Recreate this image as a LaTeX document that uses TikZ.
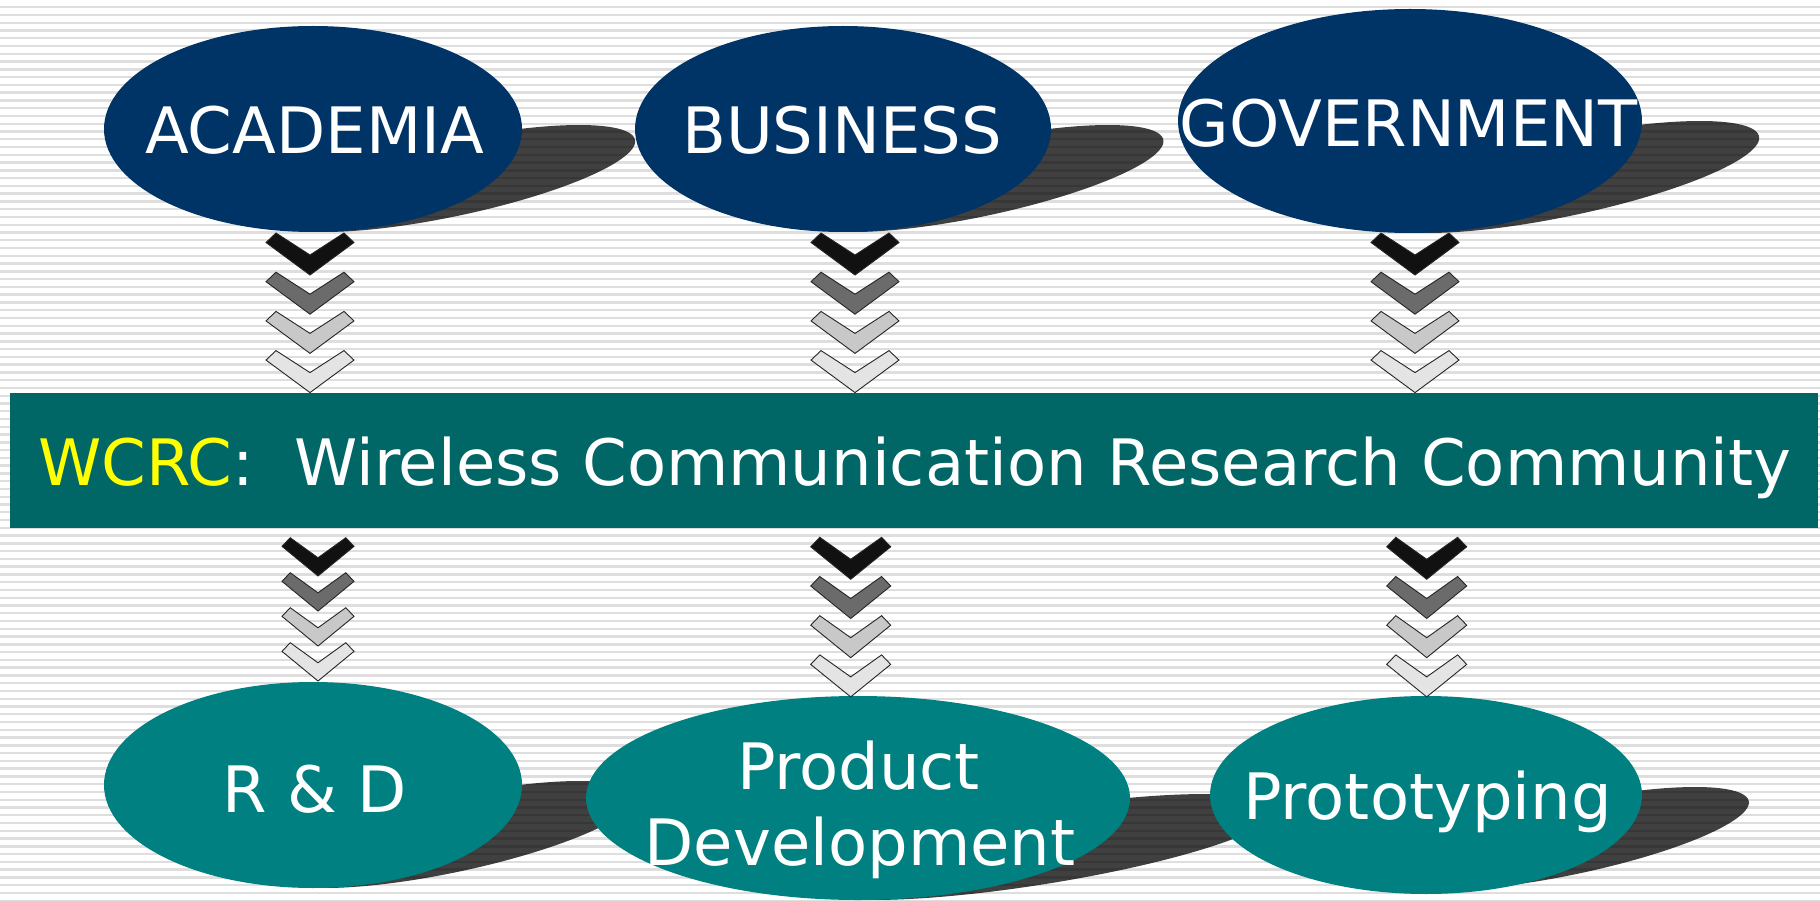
\documentclass[tikz,border=0pt]{standalone}
\usepackage{fontspec}
\setmainfont{DejaVu Sans}
\usetikzlibrary{shapes.geometric}
\definecolor{navy}{HTML}{003366}
\definecolor{tealB}{HTML}{008080}
\definecolor{barteal}{HTML}{006666}
\definecolor{stripec}{HTML}{DEDEDE}
\definecolor{chevA}{HTML}{111111}
\definecolor{chevB}{HTML}{6B6B6B}
\definecolor{chevC}{HTML}{C8C8C8}
\definecolor{chevD}{HTML}{E4E4E4}
\definecolor{wcrcyellow}{HTML}{FFFF00}
\tikzset{
  topell/.style={ellipse, fill=navy, inner sep=0pt},
  botell/.style={ellipse, fill=tealB, inner sep=0pt},
  lbl/.style={text=white, inner sep=0pt, anchor=base, font=\fontsize{64}{64}\selectfont},
  shadowfill/.style={fill=black, fill opacity=0.75},
  chevline/.style={draw=black!85, line width=0.9pt, line join=miter},
}
\newcommand\shadowshape[5]{%
  \fill[shadowfill] plot[domain=0:360, samples=120] ({#1+#3*cos(\x)+#5*sin(\x)},{#2-#4*sin(\x)}) -- cycle;}
\newcommand\chev[5]{%
  \begin{scope}[shift={(#1,#2)}, xscale=#3, yscale=#4]
    \filldraw[chevline, fill=#5] (-44,9.5) -- (-34,0) -- (0,22) -- (34,0) -- (44,9.5) -- (0,42) -- cycle;
  \end{scope}}
\newcommand\chevcol[5]{% x, top, spacing, xscale, yscale
  \chev{#1}{#2}{#4}{#5}{chevA}
  \chev{#1}{#2+#3}{#4}{#5}{chevB}
  \chev{#1}{#2+2*#3}{#4}{#5}{chevC}
  \chev{#1}{#2+3*#3}{#4}{#5}{chevD}}
\begin{document}
\begin{tikzpicture}[x=1pt,y=-1pt]
\useasboundingbox (0,0) rectangle (1820,901);
\fill[white] (0,0) rectangle (1820,901);
\foreach \i in {0,...,115} {
  \fill[stripec] (0,{6+7.77*\i}) rectangle (1820,{8.4+7.77*\i});
}
% shadows
\shadowshape{452}{178.5}{132}{53.5}{127}
\shadowshape{981}{178.5}{131}{53.5}{127}
\shadowshape{1564}{177}{140}{56}{136}
\shadowshape{452}{834.5}{132}{53.5}{127}
\shadowshape{1039}{847}{171}{53}{166}
\shadowshape{1570}{838.5}{128}{51.5}{125}
% top ellipses
\node[topell, minimum width=418pt, minimum height=206pt] (acad) at (313,129) {};
\node[topell, minimum width=416pt, minimum height=206pt] (bus) at (843,129) {};
\node[topell, minimum width=464pt, minimum height=224pt] (gov) at (1410,121) {};
\node[lbl] (acadt) at (314.5,154) {ACADEMIA};
\node[lbl] (bust) at (842,154) {BUSINESS};
\node[lbl] (govt) at (1408.5,147) {GOVERNMENT};
% bottom ellipses
\node[botell, minimum width=418pt, minimum height=206pt] (rd) at (313,785) {};
\node[botell, minimum width=544pt, minimum height=204pt] (pd) at (858,798) {};
\node[botell, minimum width=432pt, minimum height=198pt] (pt) at (1426,795) {};
\node[lbl] (rdt) at (315,812) {R \& D};
\node[lbl] (pdt1) at (858.5,789) {Product};
\node[lbl] (pdt2) at (860,865) {Development};
\node[lbl] (ptt) at (1427.5,819) {Prototyping};
% bar
\node[fill=barteal, minimum width=1808pt, minimum height=135pt, anchor=north west, inner sep=0pt] (bar) at (10,393) {};
\node[text=white, inner sep=0pt, anchor=base west, font=\fontsize{64}{64}\selectfont] (bart) at (38,485) {\textcolor{wcrcyellow}{WCRC}:\ \ Wireless Communication Research Community};
% chevrons top
\chevcol{310}{233}{39.2}{1}{1}
\chevcol{855}{233}{39.2}{1}{1}
\chevcol{1415}{233}{39.2}{1}{1}
% chevrons bottom
\chevcol{318}{537.7}{35}{0.818}{0.912}
\chevcol{850.7}{537.3}{39.2}{0.909}{1}
\chevcol{1426.7}{537.3}{39.2}{0.909}{1}
\end{tikzpicture}
\end{document}
